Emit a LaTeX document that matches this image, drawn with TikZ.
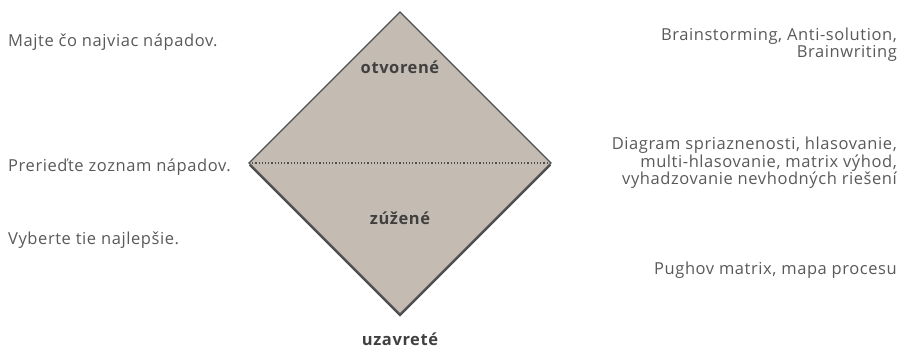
\documentclass[tikz,border=0pt]{standalone}
\usepackage{fontspec}
\setmainfont{Open Sans}[LetterSpace=3.5]
\usepackage{tikz}

\definecolor{boxfill}{RGB}{196,188,178}
\definecolor{boxline}{RGB}{80,80,80}
\definecolor{txtgray}{RGB}{89,89,89}
\definecolor{lblgray}{RGB}{64,64,64}

\tikzset{
	note/.style={text=txtgray, font=\fontsize{16.5}{15.5}\selectfont, inner sep=0pt},
	lnote/.style={note, anchor=west, align=left},
	rnote/.style={note, anchor=east, align=right},
	phase/.style={text=lblgray, font=\fontsize{16.5}{15.5}\selectfont\bfseries, inner sep=0pt}
}

\begin{document}
\begin{tikzpicture}[x=1pt, y=-1pt]
	\useasboundingbox (0,0) rectangle (905,351);
	\coordinate (top) at (400,12);
	\coordinate (right) at (551,163);
	\coordinate (bottom) at (400,314);
	\coordinate (left) at (249,163);
	% shadow and diamond
	\fill[boxline] ([yshift=-2.5pt]top) -- ([yshift=-2.5pt]right) -- ([yshift=-2.5pt]bottom) -- ([yshift=-2.5pt]left) -- cycle;
	\draw[boxline, fill=boxfill, line width=1.4pt, line join=miter] (top) -- (right) -- (bottom) -- (left) -- cycle;
	\draw[boxline, dotted, line width=1.2pt] (left) -- (right);
	\node[phase] (open) at (400,67) {otvorené};
	\node[phase] (narrow) at (400,218) {zúžené};
	\node[phase, anchor=base] (closed) at (400,345.5) {uzavreté};
	% left side
	\node[lnote] (ideas) at (8,42) {Majte čo najviac nápadov.};
	\node[lnote] (review) at (8,167) {Prerieďte zoznam nápadov.};
	\node[lnote] (best) at (8,240) {Vyberte tie najlepšie.};
	% right side
	\node[rnote] (brain) at (897,45) {Brainstorming, Anti-solution,\\Brainwriting};
	\node[rnote] (vote) at (897,163) {Diagram spriaznenosti, hlasovanie,\\multi-hlasovanie, matrix výhod,\\vyhadzovanie nevhodných riešení};
	\node[rnote] (pugh) at (897,270) {Pughov matrix, mapa procesu};
\end{tikzpicture}
\end{document}
